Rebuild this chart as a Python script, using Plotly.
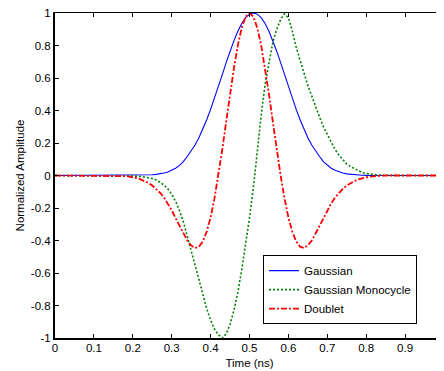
import plotly.graph_objects as go

# ---- data ----
t = [0.0, 0.1, 0.15,
     0.18, 0.19, 0.20, 0.21, 0.22, 0.23, 0.24, 0.25, 0.26, 0.27, 0.28, 0.29,
     0.30, 0.31, 0.32, 0.33, 0.34, 0.35, 0.36, 0.37, 0.38, 0.39,
     0.40, 0.41, 0.42, 0.43, 0.44, 0.45, 0.46, 0.47, 0.48, 0.49,
     0.50, 0.51, 0.52, 0.53, 0.54, 0.55, 0.56, 0.57, 0.58, 0.59,
     0.60, 0.61, 0.62, 0.63, 0.64, 0.65, 0.66, 0.67, 0.68, 0.69,
     0.70, 0.71, 0.72, 0.73, 0.74, 0.75, 0.76, 0.77, 0.78, 0.79,
     0.80, 0.81, 0.82, 0.83, 0.84, 0.85, 0.86,
     0.9, 1.0]

gaussian = [0, 0, 0,
            0, 0, 0, 0, 0.001, 0.002, 0.003, 0.0045, 0.007, 0.010, 0.015, 0.022,
            0.032, 0.045, 0.062, 0.085, 0.117, 0.149, 0.188, 0.233, 0.285, 0.343,
            0.407, 0.475, 0.548, 0.621, 0.695, 0.765, 0.830, 0.888, 0.935, 0.971,
            0.993, 1.0, 0.993, 0.971, 0.935, 0.888, 0.830, 0.765, 0.695, 0.621,
            0.548, 0.475, 0.407, 0.343, 0.285, 0.233, 0.188, 0.149, 0.117, 0.085,
            0.062, 0.045, 0.032, 0.022, 0.015, 0.010, 0.007, 0.0045, 0.003, 0.002,
            0.001, 0, 0, 0, 0, 0, 0,
            0, 0]

monocycle = [0, 0, 0,
             0, -0.001, -0.002, -0.004, -0.006, -0.009, -0.013, -0.018, -0.027, -0.04, -0.058, -0.082,
             -0.115, -0.16, -0.215, -0.285, -0.37, -0.46, -0.55, -0.64, -0.73, -0.82,
             -0.89, -0.945, -0.98, -1.0, -0.975, -0.915, -0.83, -0.72, -0.58, -0.43,
             -0.26, -0.075, 0.16, 0.37, 0.56, 0.70, 0.82, 0.90, 0.96, 0.995,
             0.97, 0.89, 0.79, 0.71, 0.63, 0.553, 0.49, 0.42, 0.36, 0.30,
             0.25, 0.20, 0.16, 0.125, 0.095, 0.07, 0.055, 0.042, 0.028, 0.018,
             0.012, 0.008, 0.005, 0.003, 0.002, 0.001, 0,
             0, 0]

doublet = [0, 0, 0,
           -0.004, -0.007, -0.011, -0.016, -0.024, -0.034, -0.046, -0.062, -0.082, -0.106, -0.135, -0.172,
           -0.214, -0.262, -0.31, -0.357, -0.40, -0.43, -0.446, -0.438, -0.406, -0.346,
           -0.258, -0.141, 0.0, 0.160, 0.330, 0.501, 0.662, 0.801, 0.909, 0.977,
           1.0, 0.977, 0.909, 0.801, 0.662, 0.501, 0.330, 0.160, 0.0, -0.141,
           -0.258, -0.346, -0.406, -0.438, -0.446, -0.43, -0.40, -0.357, -0.31, -0.262,
           -0.214, -0.172, -0.135, -0.106, -0.082, -0.062, -0.046, -0.034, -0.024, -0.016,
           -0.011, -0.007, -0.004, -0.002, -0.001, 0, 0,
           0, 0]

series_names = ["Gaussian", "Gaussian Monocycle", "Doublet"]

x_tick_vals = [0, 0.1, 0.2, 0.3, 0.4, 0.5, 0.6, 0.7, 0.8, 0.9]
x_tick_text = ["0", "0.1", "0.2", "0.3", "0.4", "0.5", "0.6", "0.7", "0.8", "0.9"]
y_tick_vals = [-1, -0.8, -0.6, -0.4, -0.2, 0, 0.2, 0.4, 0.6, 0.8, 1]
y_tick_text = ["-1", "-0.8", "-0.6", "-0.4", "-0.2", "0", "0.2", "0.4", "0.6", "0.8", "1"]

x_title = "Time (ns)"
y_title = "Normalized Amplitude"

FONT = dict(family="Liberation Sans, Arial, sans-serif", size=11.5, color="black")

fig = go.Figure()
fig.add_trace(go.Scatter(x=t, y=gaussian, name=series_names[0], mode="lines",
                         line=dict(color="#0000FF", width=1.1)))
fig.add_trace(go.Scatter(x=t, y=monocycle, name=series_names[1], mode="lines",
                         line=dict(color="#008000", width=1.6, dash="2px,2px")))
fig.add_trace(go.Scatter(x=t, y=doublet, name=series_names[2], mode="lines",
                         line=dict(color="#FF0000", width=1.8, dash="6px,2px,2px,2px")))
# invisible companion trace so the top/right frame axes are drawn
fig.add_trace(go.Scatter(x=t, y=gaussian, xaxis="x2", yaxis="y2", mode="lines",
                         line=dict(width=0), opacity=0, showlegend=False, hoverinfo="skip"))

# the page places the figure 8px from the window's top-left corner
fig.update_layout(
    width=436, height=363,
    margin=dict(l=47, r=0, t=5, b=33),
    paper_bgcolor="white", plot_bgcolor="white",
    font=FONT,
    showlegend=True,
    legend=dict(x=0.5347, y=0.255, xanchor="left", yanchor="top",
                bgcolor="white", bordercolor="black", borderwidth=1,
                font=FONT, tracegroupgap=0),
    xaxis=dict(range=[0, 1], tickmode="array", tickvals=x_tick_vals, ticktext=x_tick_text,
               ticks="inside", ticklen=4, tickwidth=1, tickcolor="black",
               showline=True, linecolor="black", linewidth=2, showgrid=False, zeroline=False,
               automargin=False, tickfont=FONT, ticklabelstandoff=-2,
               title=dict(text=x_title, font=FONT, standoff=6)),
    yaxis=dict(range=[-1, 1], tickmode="array", tickvals=y_tick_vals, ticktext=y_tick_text,
               ticks="inside", ticklen=4, tickwidth=1, tickcolor="black",
               showline=True, linecolor="black", linewidth=2, showgrid=False, zeroline=False,
               automargin=False, tickfont=FONT, ticklabeloverflow="allow",
               title=dict(text=y_title, font=FONT, standoff=4)),
    xaxis2=dict(overlaying="x", side="top", range=[0, 1], tickmode="array", tickvals=x_tick_vals,
                ticks="inside", ticklen=4, tickcolor="black", showticklabels=False,
                showline=True, linecolor="black", linewidth=1, showgrid=False, zeroline=False),
    yaxis2=dict(overlaying="y", side="right", range=[-1, 1], tickmode="array", tickvals=y_tick_vals,
                ticks="inside", ticklen=4, tickcolor="black", showticklabels=False,
                showline=False, showgrid=False, zeroline=False),
)

fig.write_html("out.html")
